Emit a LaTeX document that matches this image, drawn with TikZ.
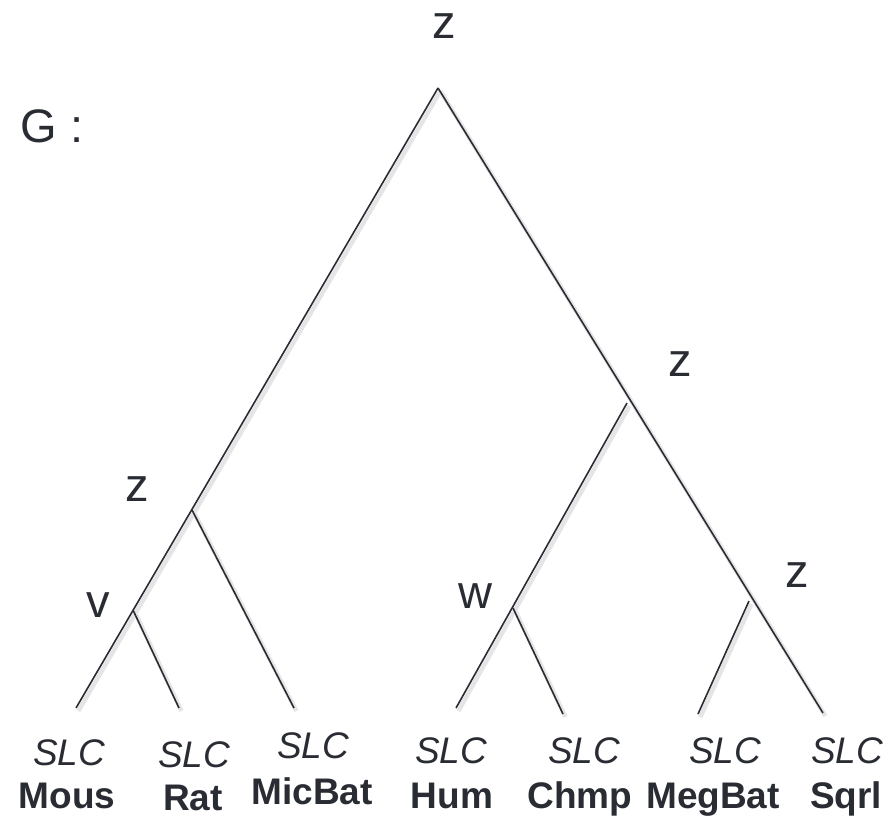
\documentclass[tikz,border=0pt]{standalone}
\usepackage{fontspec}
\setmainfont{Liberation Sans}
\usetikzlibrary{positioning}
\definecolor{ink}{HTML}{2A2C34}
\tikzstyle{branch} = [draw=ink, line width=0.8pt, preaction={draw=black!10, line width=2.2pt, transform canvas={shift={(1.2pt,-1.5pt)}}}]
\tikzstyle{event} = [text=ink, font=\fontsize{23.5}{28}\selectfont, anchor=base, inner sep=0pt]
\tikzstyle{gene} = [text=ink, font=\fontsize{18.5}{22}\selectfont\itshape, anchor=base, inner sep=0pt]
\tikzstyle{species} = [text=ink, font=\fontsize{18.5}{22}\selectfont\bfseries, anchor=base, inner sep=0pt]

\begin{document}
\begin{tikzpicture}[x=0.5pt, y=-0.5pt]
            \useasboundingbox (0,0) rectangle (894,821);

            % internal vertices of the tree
            \coordinate (root) at (438,88);
            \coordinate (zleft) at (192,510);
            \coordinate (vnode) at (133,610);
            \coordinate (zright) at (627,403);
            \coordinate (wnode) at (513,608);
            \coordinate (zlow) at (749,601);

            % leaf ends
            \coordinate (mous) at (76,708);
            \coordinate (rat) at (179,708);
            \coordinate (micbat) at (294,708);
            \coordinate (hum) at (456,708);
            \coordinate (chmp) at (563,714);
            \coordinate (megbat) at (698,714);
            \coordinate (sqrl) at (823,713);

            \draw [branch] (root) -- (mous);
            \draw [branch] (root) -- (sqrl);
            \draw [branch] (zleft) -- (micbat);
            \draw [branch] (vnode) -- (rat);
            \draw [branch] (zright) -- (hum);
            \draw [branch] (wnode) -- (chmp);
            \draw [branch] (zlow) -- (megbat);

            % event labels
            \node (gname) [event] at (52,142) {G :};
            \node (lroot) [event] at (444,38) {z};
            \node (lzleft) [event] at (137,501) {z};
            \node (lvnode) [event] at (98,617) {v};
            \node (lzright) [event] at (680,376) {z};
            \node (lwnode) [event] at (475,608) {w};
            \node (lzlow) [event] at (797,587) {z};

            % gene and species names under the leaves
            \node (gmous) [gene] at (69,765) {SLC};
            \node (grat) [gene] at (194,767) {SLC};
            \node (gmicbat) [gene] at (313,758) {SLC};
            \node (ghum) [gene] at (451,763) {SLC};
            \node (gchmp) [gene] at (584,763) {SLC};
            \node (gmegbat) [gene] at (725,763) {SLC};
            \node (gsqrl) [gene] at (847,763) {SLC};

            \node (smous) [species] at (67,808) {Mous};
            \node (srat) [species] at (193,810) {Rat};
            \node (smicbat) [species] at (312,804) {MicBat};
            \node (shum) [species] at (452,808) {Hum};
            \node (schmp) [species] at (580,808) {Chmp};
            \node (smegbat) [species] at (713,808) {MegBat};
            \node (ssqrl) [species] at (846,808) {Sqrl};
\end{tikzpicture}
\end{document}
